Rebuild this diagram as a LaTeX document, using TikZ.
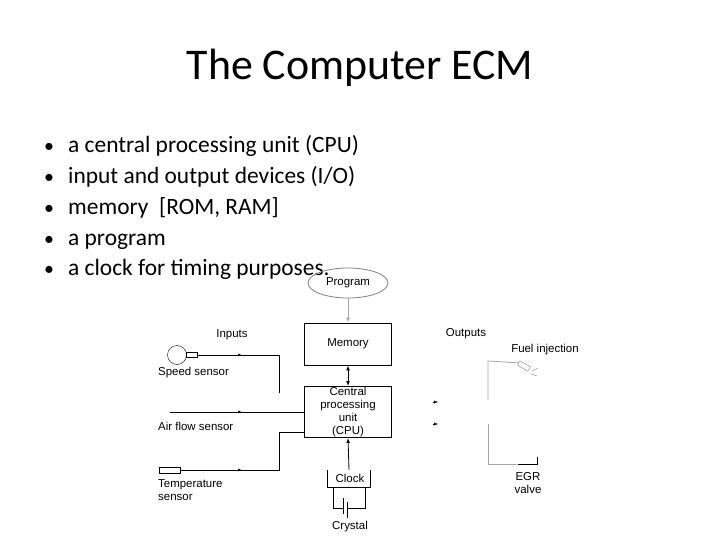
\documentclass[tikz,border=0pt]{standalone}
\usepackage{fontspec}
\setmainfont{Carlito}
\newfontfamily\diagfont{Liberation Sans}
\usetikzlibrary{shapes.geometric,arrows.meta}
\tikzset{%
  ecm/.style = {
    x=1bp, y=-1bp,
    every node/.style = {inner sep=0pt},
    block/.style = {draw, thick, minimum width=87bp, align=center,
      font=\diagfont\fontsize{11.5}{13}\selectfont},
    lbl/.style = {font=\diagfont\fontsize{11.5}{13}\selectfont, align=left},
    bul/.style = {font=\fontsize{23.5}{28}\selectfont, anchor=base west},
    wire/.style = {draw, thick},
    gwire/.style = {draw, thick, gray!70},
    mid/.style = {-{Latex[length=4bp,width=3bp]}}
  }
}
\begin{document}
\begin{tikzpicture}[ecm]
\useasboundingbox (0,0) rectangle (720,540);
\node[font=\fontsize{44}{48}\selectfont] (title) at (360,68) {The Computer ECM};
\foreach \y/\t [count=\i] in {153/a central processing unit (CPU),
    184/{input and output devices (I/O)},
    215/{memory~ [ROM, RAM]},
    246/a program,
    276/a clock for timing purposes.} {
  \node[bul, font=\fontsize{20}{24}\selectfont] (dot\i) at (44,\y) {\textbullet};
  \node[bul] (item\i) at (68,\y) {\t};
}
% program, memory, cpu
\node[draw, gray, thick, ellipse, minimum width=80bp, minimum height=30bp,
  text=black, font=\diagfont\fontsize{11.5}{13}\selectfont] (prog) at (348,283) {Program};
\node[block, minimum height=42bp] (mem) at (348,344) {Memory};
\node[block, minimum height=51bp] (cpu) at (348,412) {Central\\processing\\unit\\(CPU)};
\draw[gwire, -{Latex[length=5bp]}] (prog) -- (mem);
\draw[thick, {Latex[length=5bp]}-{Latex[length=5bp]}] (mem) -- (cpu);
% clock and crystal
\node[lbl] (clock) at (350,478) {Clock};
\coordinate (ckl) at (327,470);
\coordinate (ckr) at (370,470);
\draw[wire] (ckl) -- (327,487) -- (370,487) -- (ckr);
\draw[thick, -{Latex[length=5bp]}] (349,470) -- (cpu.south);
\draw[wire] (333,487) -- (333,508) -- (343,508);
\draw[wire] (365,487) -- (365,508) -- (347,508);
\draw[wire] (343,498) -- (343,514) (347,502) -- (347,518);
\node[lbl] (crystal) at (350,527) {Crystal};
% inputs
\node[lbl] (inputs) at (232,335) {Inputs};
\node[draw, circle, minimum size=19bp] (speed) at (177,355) {};
\node[draw, minimum width=11bp, minimum height=5bp] (spd) at (192,355) {};
\node[lbl, anchor=west] (speedl) at (158,373) {Speed sensor};
\draw[wire] (spd.east) -- (279,355) -- (279,393);
\draw[thick, mid] (spd.east) -- (242,355);
\coordinate (air) at (170,412);
\node[lbl, anchor=west] (airl) at (158,426) {Air flow sensor};
\draw[wire] (air) -- (cpu.west |- air);
\draw[thick, mid] (air) -- (242,412);
\node[draw, minimum width=21bp, minimum height=6bp] (temp) at (170,470) {};
\node[lbl, anchor=west] (templ) at (158,490) {Temperature\\sensor};
\draw[wire] (temp.east) -- (279,470) -- (279,432) -- (cpu.west |- 0,432);
\draw[thick, mid] (temp.east) -- (242,470);
% outputs
\node[lbl] (outputs) at (466,334) {Outputs};
\node[lbl] (fuel) at (545,350) {Fuel injection};
\node[draw, gray, minimum width=12bp, minimum height=5bp, rotate=-30] (inj) at (524,366) {};
\draw[gwire] (488,400) -- (488,361) -- (inj.west);
\draw[gray, thin] (532,371) -- (538,368) (531,374) -- (537,376);
\draw[-{Latex[length=4bp,width=3bp]}] (433,402) -- (438,402);
\draw[-{Latex[length=4bp,width=3bp]}] (433,424) -- (438,424);
\node[lbl, align=center] (egr) at (528,483) {EGR\\valve};
\draw[gwire] (488,424) -- (488,464) -- (517,464);
\draw[wire] (518,464) -- (537,464) -- (537,457);
\end{tikzpicture}
\end{document}
